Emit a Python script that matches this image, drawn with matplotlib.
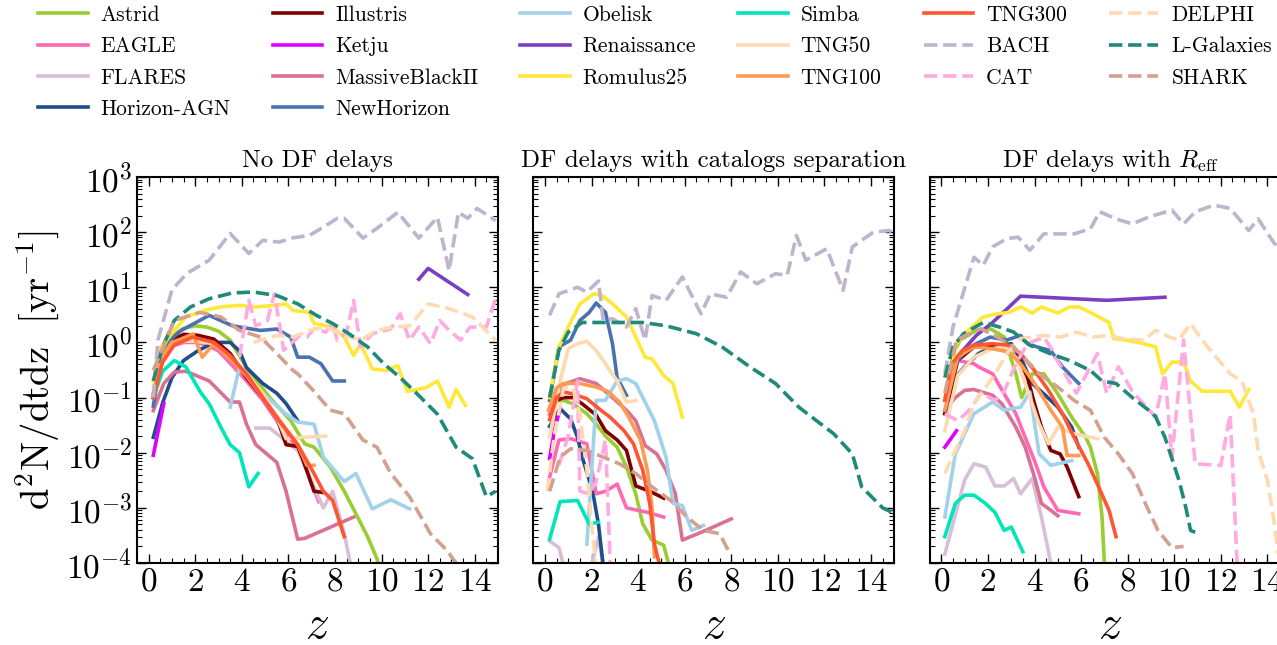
import numpy as np
import matplotlib.pyplot as plt
from matplotlib.ticker import LogLocator, MultipleLocator, NullFormatter
from matplotlib.lines import Line2D

plt.rcParams['font.family'] = 'serif'
plt.rcParams['font.serif'] = ['cmr10']
plt.rcParams['mathtext.fontset'] = 'cm'
plt.rcParams['axes.formatter.use_mathtext'] = True
plt.rcParams['axes.unicode_minus'] = False

names = ['Astrid', 'EAGLE', 'FLARES', 'Horizon-AGN', 'Illustris', 'Ketju',
         'MassiveBlackII', 'NewHorizon', 'Obelisk', 'Renaissance', 'Romulus25',
         'Simba', 'TNG50', 'TNG100', 'TNG300', 'BACH', 'CAT', 'DELPHI',
         'L-Galaxies', 'SHARK']
dashed = ['BACH', 'CAT', 'DELPHI', 'L-Galaxies', 'SHARK']
colors = ['#9ACD32', '#FF69B4', '#D8BFD8', '#1F4E8C', '#800000', '#E000FF',
          '#DB7093', '#4A72B0', '#A0D2EB', '#7B3FC4', '#FFE838',
          '#00E6B8', '#FFDAB0', '#FF9A50', '#FF5533', '#C0B4CC', '#FFAAE0',
          '#FFDAB0', '#1F8A78', '#D4A090']
titles = ['No DF delays', 'DF delays with catalogs separation',
          r'DF delays with $R_{\rm eff}$']

# ---------------- panel 1: no DF delays ----------------
astrid_z1 = [0.2, 0.5, 1.0, 1.5, 2.0, 2.5, 3.0, 3.5, 4.2, 5.2, 6.1, 6.7, 7.1, 7.8, 8.4, 8.9, 9.4, 9.8, 10.0]
astrid_1 = [0.1, 0.6, 1.3, 1.8, 2.0, 1.9, 1.6, 1.1, 0.35, 0.1, 0.038, 0.0145, 0.0126, 0.0055, 0.002, 0.00078, 0.0003, 0.00012, 0.00006]
eagle_z1 = [0.2, 0.5, 1.0, 1.5, 2.0, 2.5, 3.0, 3.5, 4.2, 4.9, 5.6, 6.4, 6.8, 7.3]
eagle_1 = [0.12, 0.5, 0.85, 1.0, 1.0, 0.9, 0.7, 0.42, 0.2, 0.09, 0.033, 0.012, 0.0048, 0.0013]
flares_z1 = [4.6, 5.2, 6.4, 7.5, 7.9, 8.4, 8.7]
flares_1 = [0.028, 0.028, 0.011, 0.001, 0.002, 0.00034, 0.00008]
hagn_z1 = [0.2, 0.6, 1.0, 1.5, 2.1, 2.8, 3.5, 3.9, 4.2, 4.9, 5.5, 5.9, 6.4]
hagn_1 = [0.019, 0.08, 0.23, 0.47, 0.7, 1.0, 1.0, 0.7, 0.35, 0.18, 0.12, 0.078, 0.038]
illustris_z1 = [0.2, 0.5, 1.0, 1.5, 2.1, 2.8, 3.5, 4.2, 4.9, 5.5, 5.9, 6.4, 6.6, 7.1, 7.5]
illustris_1 = [0.1, 0.45, 1.1, 1.4, 1.35, 1.15, 0.63, 0.23, 0.1, 0.044, 0.014, 0.013, 0.008, 0.002, 0.0019]
ketju_z1 = [0.2, 0.65]
ketju_1 = [0.009, 0.078]
mbii_z1 = [0.2, 0.65, 1.1, 1.6, 2.6, 3.5, 3.9, 4.2, 4.6, 5.5, 5.9, 6.4, 6.7, 8.8]
mbii_1 = [0.058, 0.18, 0.29, 0.3, 0.2, 0.083, 0.083, 0.033, 0.014, 0.0067, 0.002, 0.00027, 0.00028, 0.00068]
newhor_z1 = [0.2, 0.5, 1.0, 1.4, 2.6, 3.6, 4.8, 5.5, 6.1, 6.4, 6.9, 7.4, 7.9, 8.4]
newhor_1 = [0.07, 0.4, 1.2, 1.65, 3.1, 2.0, 1.65, 1.75, 1.25, 0.54, 0.54, 0.41, 0.2, 0.2]
obelisk_z1 = [3.5, 3.9, 4.6, 5.9, 6.4, 7.1, 7.5, 8.4, 8.9, 9.6, 10.4, 11.2]
obelisk_1 = [0.067, 0.36, 0.155, 0.05, 0.036, 0.033, 0.0083, 0.003, 0.0042, 0.00096, 0.0014, 0.00096]
renais_z1 = [11.6, 12.0, 13.7]
renais_1 = [14, 22, 7.4]
romulus_z1 = [0.2, 0.5, 1.1, 1.6, 2.4, 3.1, 3.9, 4.6, 5.4, 5.9, 6.2, 6.9, 7.1, 7.9, 8.4, 8.8, 9.1, 9.6, 10.2, 10.7, 11.1, 11.9, 12.4, 12.9, 13.2, 13.6]
romulus_1 = [0.2, 0.8, 1.65, 2.9, 3.8, 4.4, 4.7, 4.4, 4.7, 5.0, 3.8, 3.5, 2.2, 1.9, 1.25, 0.58, 0.95, 0.33, 0.31, 0.38, 0.13, 0.15, 0.2, 0.067, 0.14, 0.072]
simba_z1 = [0.2, 0.6, 1.1, 1.6, 2.2, 2.6, 3.1, 3.5, 3.9, 4.3, 4.7]
simba_1 = [0.1, 0.3, 0.47, 0.36, 0.13, 0.077, 0.029, 0.014, 0.01, 0.0024, 0.0042]
tng50_z1 = [0.2, 0.5, 1.0, 1.5, 2.0, 2.8, 3.9, 4.9, 5.5, 5.9, 6.6, 7.6]
tng50_1 = [0.15, 0.5, 0.9, 1.05, 1.05, 0.95, 0.36, 0.12, 0.044, 0.018, 0.019, 0.02]
tng100_z1 = [0.2, 0.5, 1.0, 1.5, 1.9, 2.3, 2.8, 3.5, 4.2, 4.9, 5.6, 6.4, 6.8, 7.1]
tng100_1 = [0.1, 0.5, 1.0, 1.2, 1.43, 0.54, 0.95, 0.5, 0.25, 0.1, 0.04, 0.014, 0.0059, 0.0059]
tng300_z1 = [0.2, 0.6, 1.1, 1.9, 2.8, 3.5, 4.2, 4.9, 5.6, 6.4, 7.1, 7.5, 7.9, 8.4]
tng300_1 = [0.1, 0.44, 0.9, 1.25, 1.0, 0.58, 0.27, 0.1, 0.038, 0.014, 0.0042, 0.002, 0.00136, 0.0003]
bach_z1 = [0.2, 0.4, 1.0, 1.65, 2.6, 3.5, 4.3, 4.9, 5.6, 6.2, 6.9, 7.5, 8.1, 8.4, 9.2, 9.8, 10.7, 11.6, 12.4, 12.9, 13.3, 13.7, 14.1, 14.9]
bach_1 = [0.1, 1.1, 9, 18, 31, 95, 41, 71, 66, 79, 87, 123, 178, 178, 78, 117, 229, 78, 186, 20, 229, 178, 269, 162]
cat_z1 = [3.9, 4.3, 4.6, 5.1, 5.4, 5.8, 6.1, 6.5, 6.8, 7.1, 7.6, 7.9, 8.1, 8.5, 8.8, 9.1, 9.6, 9.9, 10.4, 10.8, 11.2, 11.6, 12.1, 12.5, 12.9, 13.4, 13.8, 14.5, 14.9]
cat_1 = [0.54, 5.8, 2.0, 2.5, 7.6, 0.72, 0.95, 1.34, 1.25, 1.77, 1.54, 2.2, 1.1, 1.5, 5.8, 0.83, 1.44, 1.54, 1.77, 3.3, 1.1, 1.9, 0.95, 2.5, 1.65, 1.1, 1.9, 1.9, 6.2]
delphi_z1 = [4.5, 4.8, 5.5, 6.2, 6.9, 7.6, 8.4, 9.1, 9.8, 10.5, 11.2, 12.0, 12.9, 13.9, 14.9]
delphi_1 = [1.0, 1.1, 1.34, 1.25, 1.65, 1.9, 1.34, 1.1, 1.65, 1.9, 2.0, 5.0, 4.1, 2.9, 1.1]
lgal_z1 = [0.2, 0.6, 1.1, 1.8, 2.6, 3.6, 4.5, 5.5, 6.4, 7.2, 7.9, 8.6, 9.4, 10.1, 10.8, 11.5, 12.4, 13.2, 13.9, 14.5, 14.9]
lgal_1 = [0.2, 0.83, 2.5, 4.4, 6.2, 7.9, 8.2, 7.1, 5.0, 3.1, 2.2, 1.44, 0.83, 0.41, 0.23, 0.12, 0.05, 0.0126, 0.0078, 0.0016, 0.002]
shark_z1 = [0.2, 1.1, 2.2, 3.1, 3.9, 4.8, 5.5, 6.2, 6.4, 7.1, 7.8, 8.4, 9.2, 9.8, 10.4, 11.2, 12.1, 12.8, 13.2]
shark_1 = [0.31, 2.5, 3.5, 2.9, 1.65, 1.25, 0.63, 0.31, 0.27, 0.13, 0.059, 0.051, 0.017, 0.0126, 0.0042, 0.0016, 0.00034, 0.00017, 0.0001]

# ---------------- panel 2: DF delays with catalogs separation ----------------
astrid_z2 = [0.35, 0.8, 1.2, 1.8, 2.2, 2.6, 3.1, 3.5, 3.9, 4.2, 4.6, 5.1, 5.3]
astrid_2 = [0.083, 0.089, 0.077, 0.051, 0.033, 0.02, 0.0126, 0.0055, 0.0018, 0.00051, 0.00026, 0.00021, 0.0001]
eagle_z2 = [0.2, 0.6, 1.1, 1.8, 2.2, 2.6, 3.1, 3.5, 4.4, 5.1]
eagle_2 = [0.0036, 0.017, 0.018, 0.0145, 0.0018, 0.002, 0.0027, 0.001, 0.00083, 0.00068]
flares_z2 = [0.2, 0.6, 0.8, 1.5, 2.0, 2.3, 2.5]
flares_2 = [0.00025, 0.00019, 0.00009, np.nan, 0.00009, 0.0003, 0.00009]
hagn_z2 = [0.2, 0.65, 1.1, 1.4, 1.6, 1.9, 2.1, 2.3, 2.5]
hagn_2 = [0.03, 0.063, 0.041, 0.019, 0.0083, 0.0032, 0.0015, 0.0005, 0.00009]
illustris_z2 = [0.5, 0.8, 1.2, 1.6, 2.2, 2.6, 3.1, 3.5, 3.9, 4.5, 5.1]
illustris_2 = [0.089, 0.1, 0.1, 0.077, 0.048, 0.025, 0.017, 0.011, 0.0025, 0.002, 0.0015]
ketju_z2 = [0.2, 0.4, 0.65]
ketju_2 = [0.0078, 0.025, 0.063]
mbii_z2 = [0.2, 0.5, 0.9, 1.5, 2.2, 2.9, 3.5, 3.9, 4.3, 4.8, 5.2, 5.6, 5.9, 6.9, 8.0]
mbii_2 = [0.05, 0.12, 0.18, 0.22, 0.18, 0.1, 0.059, 0.038, 0.0135, 0.0095, 0.0048, 0.0018, 0.00026, 0.00039, 0.00063]
newhor_z2 = [0.2, 0.6, 1.1, 1.5, 1.9, 2.2, 2.6, 2.9, 3.1, 3.5]
newhor_2 = [0.089, 0.83, 1.1, 2.5, 3.5, 5.2, 3.5, 0.95, 0.23, 0.11]
obelisk_z2 = [1.8, 2.2, 2.6, 3.1, 3.5, 3.9, 4.7, 5.2, 5.5, 5.9, 6.3, 6.8]
obelisk_2 = [0.00022, 0.089, 0.089, 0.2, 0.22, 0.18, 0.038, 0.0083, 0.0012, 0.0011, 0.00039, 0.00048]
renais_z2 = []
renais_2 = []
romulus_z2 = [0.2, 0.6, 1.0, 1.5, 2.1, 2.4, 2.9, 3.5, 3.9, 4.3, 4.6, 5.1, 5.5, 5.9]
romulus_2 = [0.1, 0.83, 1.9, 5.0, 7.6, 7.4, 5.0, 2.9, 1.25, 0.54, 0.5, 0.25, 0.18, 0.044]
simba_z2 = [0.2, 0.65, 1.4, 1.9, 2.3]
simba_2 = [0.00027, 0.0013, 0.00136, 0.00051, 0.00055]
tng50_z2 = [0.2, 0.65, 1.0, 1.4, 1.8, 2.2, 2.6, 3.1, 3.5, 3.9]
tng50_2 = [0.019, 0.2, 0.77, 0.95, 1.05, 0.71, 0.41, 0.2, 0.083, 0.088]
tng100_z2 = [0.15, 0.5, 0.8, 1.5, 2.2, 2.7, 3.2, 3.6, 4.1, 4.4, 4.6, 4.7]
tng100_2 = [0.059, 0.15, 0.18, 0.18, 0.155, 0.13, 0.083, 0.044, 0.017, 0.0048, 0.001, 0.00013]
tng300_z2 = [0.2, 0.5, 0.8, 1.2, 1.8, 2.4, 2.8, 3.4, 3.8, 4.2, 4.5, 4.7, 4.9]
tng300_2 = [0.04, 0.1, 0.126, 0.117, 0.095, 0.059, 0.044, 0.025, 0.0145, 0.0048, 0.0012, 0.00022, 0.0001]
bach_z2 = [0.2, 0.6, 1.4, 1.8, 2.3, 2.5, 2.9, 3.5, 3.9, 4.3, 4.6, 5.2, 5.9, 6.7, 7.1, 7.8, 8.4, 9.1, 9.9, 10.4, 10.8, 11.2, 12.1, 12.8, 13.2, 14.1, 14.8, 15.0]
bach_2 = [3.1, 7.6, 10, 8.2, 13, 2.5, 2.7, 1.9, 4.1, 1.1, 7.1, 5.8, 15.4, 3.3, 7.6, 6.6, 19, 11.6, 17.6, 16.5, 87, 31, 50, 8.8, 54, 100, 107, 90]
cat_z2 = [0.6, 1.0, 1.4, 1.5, 1.9, 2.2, 2.6, 2.8]
cat_2 = [0.006, 0.02, 0.2, 0.002, 0.0018, 0.003, 0.017, 0.0001]
delphi_z2 = [0.1, 0.4, 0.8, 1.2, 1.5, 1.8, 2.0, 2.2]
delphi_2 = [0.002, 0.02, 0.15, 0.15, 0.05, 0.005, 0.0005, 0.00009]
lgal_z2 = [0.2, 0.6, 1.0, 1.6, 2.8, 4.2, 5.2, 6.5, 7.6, 8.8, 9.9, 10.9, 12.4, 13.2, 13.6, 14.5, 14.9]
lgal_2 = [0.1, 0.72, 1.54, 2.3, 2.3, 2.3, 2.0, 1.44, 0.83, 0.36, 0.18, 0.067, 0.022, 0.0095, 0.0024, 0.001, 0.00083]
shark_z2 = [0.2, 0.65, 1.1, 1.8, 2.5, 3.2, 3.9, 4.6, 5.4, 6.1, 6.8, 7.5, 7.9]
shark_2 = [0.002, 0.0083, 0.0118, 0.011, 0.0083, 0.0063, 0.0042, 0.0024, 0.00136, 0.00068, 0.00039, 0.00034, 0.00016]

# ---------------- panel 3: DF delays with R_eff ----------------
astrid_z3 = [0.15, 0.5, 0.8, 1.5, 2.1, 2.7, 3.2, 3.45, 3.9, 4.4, 5.0, 5.6, 6.2, 6.4, 6.7, 6.9, 7.0]
astrid_3 = [0.09, 0.6, 1.1, 1.65, 1.77, 1.25, 0.27, 0.1, 0.27, 0.27, 0.117, 0.044, 0.019, 0.0126, 0.0042, 0.00068, 0.0001]
eagle_z3 = [0.2, 0.5, 0.7, 1.4, 1.6, 2.2, 2.7, 3.2, 3.6, 4.0, 4.4, 5.0, 5.9]
eagle_3 = [0.1, 0.35, 0.47, 0.41, 0.36, 0.27, 0.117, 0.051, 0.019, 0.0072, 0.0024, 0.0009, 0.00078]
flares_z3 = [0.15, 1.0, 1.4, 1.9, 2.3, 2.7, 3.1, 3.4, 3.9, 4.3, 4.7]
flares_3 = [0.000145, 0.0032, 0.0063, 0.0055, 0.0025, 0.0025, 0.0034, 0.0018, 0.0034, 0.00068, 0.0001]
hagn_z3 = [0.15, 0.6, 1.0, 1.6, 2.2, 3.0, 3.4, 3.9, 4.4, 5.0, 5.6, 5.9]
hagn_3 = [0.051, 0.23, 0.36, 0.63, 0.83, 0.95, 0.54, 0.18, 0.117, 0.067, 0.029, 0.0126]
illustris_z3 = [0.15, 0.7, 1.4, 2.2, 2.7, 3.3, 3.7, 4.0, 4.3, 4.7, 5.1, 5.4, 5.9]
illustris_3 = [0.051, 0.47, 0.83, 0.83, 0.77, 0.54, 0.23, 0.077, 0.029, 0.011, 0.0095, 0.0055, 0.0016]
ketju_z3 = [0.15, 0.65]
ketju_3 = [0.0126, 0.025]
mbii_z3 = [0.15, 0.6, 1.0, 1.4, 2.2, 2.6, 3.2, 3.6, 4.0, 4.3, 4.7, 5.0]
mbii_3 = [0.059, 0.1, 0.135, 0.14, 0.11, 0.077, 0.029, 0.0126, 0.0036, 0.0012, 0.0009, 0.00072]
newhor_z3 = [0.2, 0.5, 1.0, 1.5, 2.1, 2.8, 3.4, 3.7, 4.1, 4.7, 5.2, 5.9]
newhor_3 = [0.06, 0.35, 0.7, 0.95, 1.25, 1.1, 1.34, 0.95, 0.83, 0.71, 0.36, 0.18]
obelisk_z3 = [0.15, 0.6, 1.4, 2.2, 2.7, 3.4, 3.8, 4.2, 4.7, 5.6]
obelisk_3 = [0.00068, 0.0095, 0.051, 0.083, 0.059, 0.067, 0.126, 0.0095, 0.0059, 0.0072]
renais_z3 = [0.5, 1.5, 2.2, 3.4, 7.1, 9.6]
renais_3 = [0.45, 1.34, 2.3, 6.9, 5.8, 6.6]
romulus_z3 = [0.15, 0.65, 1.15, 1.8, 2.4, 2.9, 3.4, 3.9, 4.3, 5.0, 5.5, 5.9, 6.4, 7.2, 7.4, 7.8, 8.7, 9.2, 9.5, 9.9, 10.4, 10.7, 11.2, 12.4, 12.8, 13.2]
romulus_3 = [0.089, 0.95, 1.65, 2.9, 3.3, 3.5, 4.4, 3.4, 4.4, 3.4, 4.4, 4.4, 3.5, 2.3, 1.17, 1.13, 0.95, 0.83, 0.27, 0.44, 0.44, 0.2, 0.13, 0.13, 0.067, 0.14]
simba_z3 = [0.15, 0.6, 1.0, 1.4, 1.9, 2.3, 2.7, 3.0, 3.5]
simba_3 = [0.0003, 0.0012, 0.0017, 0.0017, 0.0012, 0.00083, 0.00039, 0.00045, 0.00016]
tng50_z3 = [0.15, 0.7, 1.4, 2.2, 2.7, 3.2, 3.7, 4.2, 4.6, 5.0, 5.7, 6.7]
tng50_3 = [0.025, 0.25, 0.54, 0.77, 0.83, 0.54, 0.135, 0.033, 0.0145, 0.029, 0.022, 0.018]
tng100_z3 = [0.15, 0.7, 1.4, 2.2, 2.9, 3.4, 4.0, 4.7, 5.2, 5.4, 5.9]
tng100_3 = [0.06, 0.54, 0.83, 0.77, 0.67, 0.41, 0.18, 0.059, 0.029, 0.0089, 0.0089]
tng300_z3 = [0.15, 0.45, 0.9, 1.4, 2.2, 2.9, 3.4, 4.0, 4.6, 5.2, 5.7, 6.3, 6.7, 7.2, 7.5]
tng300_3 = [0.089, 0.41, 0.71, 0.89, 0.95, 0.89, 0.63, 0.31, 0.135, 0.051, 0.019, 0.0063, 0.0027, 0.0009, 0.0003]
bach_z3 = [0.15, 0.5, 1.4, 1.8, 2.2, 2.8, 3.3, 3.8, 4.4, 4.9, 5.7, 6.4, 6.8, 7.5, 8.2, 8.9, 9.9, 10.4, 10.9, 11.7, 12.4, 13.2, 13.6, 14.3, 15.0]
bach_3 = [0.27, 1.9, 35, 25, 54, 76, 81, 47, 93, 93, 93, 115, 234, 174, 141, 188, 251, 141, 234, 309, 269, 107, 174, 62, 40]
cat_z3 = [0.15, 0.7, 1.2, 1.7, 2.3, 2.7, 3.2, 3.7, 4.4, 4.7, 5.3, 5.8, 6.7, 7.1, 7.6, 8.2, 9.2, 9.6, 9.9, 10.4, 10.9, 12.0, 12.4, 12.7]
cat_3 = [0.051, 0.038, 0.059, 0.12, 0.089, 0.13, 0.41, 0.95, 1.25, 0.8, 0.27, 0.12, 0.63, 0.12, 0.36, 0.13, 0.044, 0.27, 0.0083, 1.1, 0.0063, 0.0059, 0.05, 0.0001]
delphi_z3 = [0.15, 1.0, 1.4, 2.2, 2.9, 3.4, 4.4, 5.1, 5.8, 6.5, 7.2, 7.8, 8.7, 9.2, 9.8, 10.2, 10.7, 11.2, 11.8, 12.4, 12.9, 13.4, 13.6, 14.0, 14.3, 14.5]
delphi_3 = [0.0042, 0.025, 0.077, 0.23, 0.71, 1.17, 1.34, 1.25, 1.54, 1.25, 1.34, 1.17, 1.1, 1.65, 1.25, 1.1, 2.2, 1.1, 0.54, 0.27, 0.2, 0.051, 0.011, 0.0032, 0.00051, 0.0001]
lgal_z3 = [0.15, 0.5, 0.95, 1.8, 2.5, 3.1, 3.8, 4.7, 5.5, 6.4, 6.9, 7.5, 8.2, 8.9, 9.2, 9.6, 10.2, 10.5, 10.7, 10.9]
lgal_3 = [0.23, 0.83, 1.44, 2.3, 1.9, 1.54, 0.89, 0.62, 0.47, 0.31, 0.2, 0.18, 0.1, 0.059, 0.045, 0.019, 0.0032, 0.001, 0.00039, 0.00036]
shark_z3 = [0.15, 0.65, 1.2, 1.7, 2.4, 3.1, 4.2, 5.0, 5.7, 6.4, 7.0, 7.6, 8.2, 8.7, 9.3, 9.9, 10.4]
shark_3 = [0.12, 1.1, 1.44, 1.77, 1.25, 0.83, 0.27, 0.155, 0.089, 0.059, 0.019, 0.0095, 0.0042, 0.00136, 0.00039, 0.00019, 0.0002]

panel1 = [(astrid_z1, astrid_1), (eagle_z1, eagle_1), (flares_z1, flares_1), (hagn_z1, hagn_1),
          (illustris_z1, illustris_1), (ketju_z1, ketju_1), (mbii_z1, mbii_1), (newhor_z1, newhor_1),
          (obelisk_z1, obelisk_1), (renais_z1, renais_1), (romulus_z1, romulus_1), (simba_z1, simba_1),
          (tng50_z1, tng50_1), (tng100_z1, tng100_1), (tng300_z1, tng300_1), (bach_z1, bach_1),
          (cat_z1, cat_1), (delphi_z1, delphi_1), (lgal_z1, lgal_1), (shark_z1, shark_1)]
panel2 = [(astrid_z2, astrid_2), (eagle_z2, eagle_2), (flares_z2, flares_2), (hagn_z2, hagn_2),
          (illustris_z2, illustris_2), (ketju_z2, ketju_2), (mbii_z2, mbii_2), (newhor_z2, newhor_2),
          (obelisk_z2, obelisk_2), (renais_z2, renais_2), (romulus_z2, romulus_2), (simba_z2, simba_2),
          (tng50_z2, tng50_2), (tng100_z2, tng100_2), (tng300_z2, tng300_2), (bach_z2, bach_2),
          (cat_z2, cat_2), (delphi_z2, delphi_2), (lgal_z2, lgal_2), (shark_z2, shark_2)]
panel3 = [(astrid_z3, astrid_3), (eagle_z3, eagle_3), (flares_z3, flares_3), (hagn_z3, hagn_3),
          (illustris_z3, illustris_3), (ketju_z3, ketju_3), (mbii_z3, mbii_3), (newhor_z3, newhor_3),
          (obelisk_z3, obelisk_3), (renais_z3, renais_3), (romulus_z3, romulus_3), (simba_z3, simba_3),
          (tng50_z3, tng50_3), (tng100_z3, tng100_3), (tng300_z3, tng300_3), (bach_z3, bach_3),
          (cat_z3, cat_3), (delphi_z3, delphi_3), (lgal_z3, lgal_3), (shark_z3, shark_3)]

W, H = 1277, 645
fig = plt.figure(figsize=(W / 100, H / 100), dpi=100)
lefts = [137, 533.3, 929.7]
LW = 2.6

for k, (left, data) in enumerate(zip(lefts, [panel1, panel2, panel3])):
    ax = fig.add_axes([left / W, 1 - 563 / H, 361 / W, 386 / H])
    for name, col, (z, v) in zip(names, colors, data):
        if len(z) == 0:
            continue
        ls = '--' if name in dashed else '-'
        ax.plot(z, v, color=col, lw=LW, ls=ls)
    ax.set_yscale('log')
    ax.set_xlim(-0.5, 15)
    ax.set_ylim(1e-4, 1e3)
    ax.xaxis.set_major_locator(MultipleLocator(2))
    ax.xaxis.set_minor_locator(MultipleLocator(0.5))
    ax.yaxis.set_major_locator(LogLocator(base=10, numticks=20))
    ax.yaxis.set_minor_locator(LogLocator(base=10, subs=np.arange(2, 10), numticks=100))
    ax.yaxis.set_minor_formatter(NullFormatter())
    ax.tick_params(which='both', direction='in', top=True, right=True, labelsize=24)
    ax.tick_params(which='major', length=6.5, width=1.0)
    ax.tick_params(which='minor', length=3.5, width=0.8)
    for s in ax.spines.values():
        s.set_linewidth(1.5)
    ax.set_title(titles[k], fontsize=18, pad=7)
    ax.set_xlabel(r'$z$', fontsize=34, labelpad=6)
    if k == 0:
        ax.set_ylabel(r'$\mathrm{d^2N/dtdz}\ \ [\mathrm{yr}^{-1}]$', fontsize=28, labelpad=4)
    else:
        ax.tick_params(labelleft=False)

handles = [Line2D([], [], color=c, lw=LW, ls='--' if n in dashed else '-')
           for n, c in zip(names, colors)]
fig.legend(handles, names, ncol=6, loc='upper center', bbox_to_anchor=(0.513, 0.995),
           frameon=False, fontsize=15.5, handlelength=2.3, handletextpad=0.6,
           columnspacing=1.95, labelspacing=0.55, borderaxespad=0.0, borderpad=0.1)

fig.savefig('out.png', dpi=100)
